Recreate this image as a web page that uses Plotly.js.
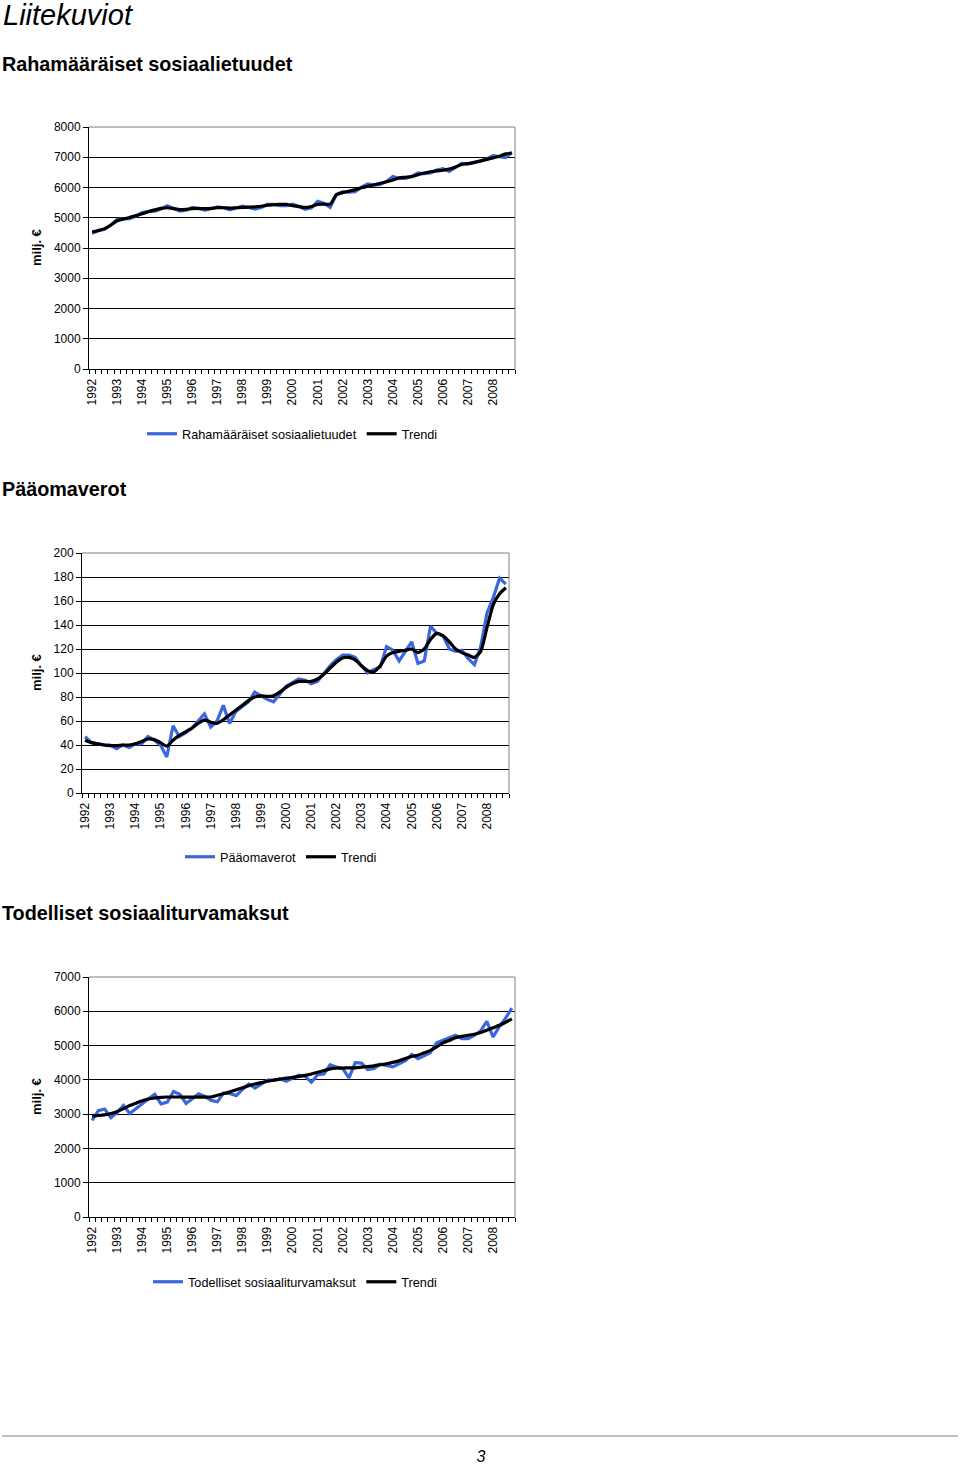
<!DOCTYPE html>
<html>
<head>
<meta charset="utf-8">
<script src="https://cdn.plot.ly/plotly-3.0.1.min.js"></script>
<style>
html,body{margin:0;padding:0;background:#fff;}
#chart{width:960px;height:1467px;}
</style>
</head>
<body>
<div id="chart"></div>
<script>
// ---------- DATA ----------
const years = ["1992","1993","1994","1995","1996","1997","1998","1999","2000","2001","2002","2003","2004","2005","2006","2007","2008"];

// Quarterly 1992Q1 ... 2008Q4 (68 quarters)
const rahaSeries = [
  4490, 4570, 4620, 4760,
  4950, 4960, 4970, 5060,
  5170, 5210, 5220, 5290,
  5400, 5310, 5220, 5250,
  5340, 5300, 5250, 5300,
  5360, 5330, 5260, 5320,
  5380, 5340, 5290, 5340,
  5440, 5440, 5400, 5400,
  5450, 5380, 5280, 5330,
  5540, 5480, 5340, 5780,
  5860, 5850, 5860, 6010,
  6120, 6080, 6100, 6200,
  6360, 6300, 6300, 6370,
  6480, 6460, 6480, 6580,
  6620, 6530, 6680, 6800,
  6780, 6820, 6870, 6950,
  7050, 7020, 6990, 7160
];
const rahaTrend = [
  4530, 4580, 4640, 4760,
  4900, 4960, 5010, 5070,
  5130, 5200, 5260, 5310,
  5330, 5300, 5270, 5280,
  5300, 5310, 5300, 5310,
  5330, 5330, 5320, 5330,
  5340, 5350, 5360, 5380,
  5420, 5430, 5440, 5440,
  5400, 5370, 5340, 5370,
  5440, 5450, 5450, 5760,
  5830, 5880, 5930, 5990,
  6040, 6090, 6140, 6190,
  6250, 6320, 6340, 6360,
  6420, 6480, 6520, 6550,
  6570, 6610, 6680, 6760,
  6790, 6830, 6880, 6930,
  6980, 7030, 7110, 7140
];

const paaSeries = [
  47, 42, 41, 40,
  40, 37, 40, 38,
  41, 41, 47, 44,
  40, 30, 56, 47,
  50, 54, 60, 66,
  55, 60, 73, 58,
  68, 72, 76, 84,
  81, 78, 76, 82,
  89, 92, 95, 94,
  91, 93, 100, 106,
  111, 115, 115, 113,
  106, 100, 103, 105,
  122, 119, 110, 118,
  126, 108, 110, 139,
  133, 131, 120, 118,
  119, 112, 107, 122,
  150, 163, 179, 174
];
const paaTrend = [
  44, 42, 41, 40,
  39.5, 39.5, 40, 40,
  41, 43, 45, 44.5,
  42, 39, 44, 48,
  51, 54, 58, 61,
  59, 58, 61, 65,
  69, 73, 77, 80,
  81, 80.5, 81, 84,
  88, 91, 93, 93,
  93, 95, 99, 104,
  109, 112.5, 113, 111,
  106, 102, 101, 106,
  114, 117, 118, 119,
  120, 117, 120, 128,
  133, 131, 126, 120,
  117, 115, 113, 118,
  138, 157, 166, 171
];

const maksuSeries = [
  2820, 3100, 3150, 2900,
  3050, 3250, 3020, 3150,
  3300, 3450, 3580, 3300,
  3350, 3660, 3580, 3310,
  3450, 3590, 3520, 3400,
  3360, 3620, 3600, 3540,
  3720, 3880, 3760, 3870,
  3990, 3990, 4030, 3960,
  4050, 4140, 4100, 3930,
  4150, 4170, 4440, 4370,
  4330, 4060, 4500, 4490,
  4300, 4330, 4460, 4430,
  4380, 4470, 4560, 4740,
  4620, 4700, 4800, 5080,
  5150, 5230, 5300, 5200,
  5200, 5300, 5420, 5710,
  5250, 5550, 5800, 6090
];
const maksuTrend = [
  2950, 2960, 2980, 3020,
  3080, 3160, 3250, 3320,
  3390, 3440, 3470, 3490,
  3500, 3500, 3500, 3495,
  3495, 3495, 3495, 3500,
  3550, 3600, 3650, 3710,
  3770, 3830, 3880, 3920,
  3960, 3990, 4020, 4050,
  4070, 4100, 4130, 4170,
  4220, 4270, 4320, 4340,
  4345, 4350, 4350, 4370,
  4390, 4410, 4440, 4470,
  4510, 4560, 4620, 4680,
  4720, 4790, 4860, 4960,
  5080, 5150, 5230, 5270,
  5300, 5330, 5380, 5450,
  5520, 5590, 5680, 5780
];

const seriesNames = ["Rahamääräiset sosiaalietuudet", "Pääomaverot", "Todelliset sosiaaliturvamaksut"];
const trendName = "Trendi";
const yTitle = "milj. €";

// ---------- BUILD ----------
const W = 960, H = 1467;
const px = v => v / W;
const py = v => 1 - v / H;
const FONT = "Liberation Sans, Arial, sans-serif";
const BLUE = "#3b67de";

const quarters = rahaSeries.map((_, i) => i);
const yearTickVals = years.map((_, k) => k * 4);

const charts = [
  {series: rahaSeries, trend: rahaTrend, name: seriesNames[0], left: 89, right: 515, top: 127, bottom: 369, ymax: 8000, dtick: 1000, legY: 434, legX: 142, legend: "legend"},
  {series: paaSeries, trend: paaTrend, name: seriesNames[1], left: 82, right: 509, top: 553, bottom: 793, ymax: 200, dtick: 20, legY: 857, legX: 180, legend: "legend2"},
  {series: maksuSeries, trend: maksuTrend, name: seriesNames[2], left: 89, right: 515, top: 977, bottom: 1217, ymax: 7000, dtick: 1000, legY: 1282, legX: 148, legend: "legend3"}
];

const data = [];
const layout = {
  width: W, height: H,
  margin: {l: 0, r: 0, t: 0, b: 0},
  paper_bgcolor: "#fff", plot_bgcolor: "#fff",
  font: {family: FONT, color: "#000", size: 12},
  showlegend: true,
  annotations: [], shapes: []
};

charts.forEach((c, k) => {
  const sfx = k === 0 ? "" : String(k + 1);
  const xa = "x" + sfx, ya = "y" + sfx;
  data.push({
    x: quarters, y: c.series, xaxis: xa, yaxis: ya, type: "scatter", mode: "lines",
    name: c.name, legend: c.legend,
    line: {color: BLUE, width: 3.2}
  });
  data.push({
    x: quarters, y: c.trend, xaxis: xa, yaxis: ya, type: "scatter", mode: "lines",
    name: trendName, legend: c.legend,
    line: {color: "#000", width: 3.2, shape: "spline", smoothing: 0.6}
  });
  layout["xaxis" + sfx] = {
    domain: [px(c.left), px(c.right)], anchor: ya,
    range: [-0.5, quarters.length - 0.5],
    tickmode: "array", tickvals: yearTickVals, ticktext: years,
    tickangle: -90, ticks: "outside", ticklen: 4, tickcolor: "rgba(0,0,0,0)",
    tickfont: {family: FONT, size: 12, color: "#000"},
    showgrid: false, zeroline: false,
    showline: true, linecolor: "#000", linewidth: 1,
    minor: {ticks: "outside", ticklen: 4, tickcolor: "#000", tickwidth: 1, tick0: -0.5, dtick: 1, showgrid: false},
    fixedrange: true
  };
  layout["yaxis" + sfx] = {
    domain: [py(c.bottom), py(c.top)], anchor: xa,
    range: [0, c.ymax], dtick: c.dtick, tick0: 0,
    ticks: "outside", ticklen: 5, tickcolor: "#000",
    tickfont: {family: FONT, size: 12, color: "#000"},
    showgrid: true, gridcolor: "#000", gridwidth: 1,
    zeroline: false, showline: true, linecolor: "#000", linewidth: 1,
    fixedrange: true
  };
  layout[c.legend] = {
    orientation: "h", x: px(c.legX), y: py(c.legY), xanchor: "left", yanchor: "middle",
    font: {family: FONT, size: 12.7, color: "#000"}, bgcolor: "rgba(0,0,0,0)",
    itemwidth: 30, traceorder: "normal", itemclick: false, itemdoubleclick: false
  };
  // grey frame (top/right)
  layout.shapes.push({type: "line", xref: "paper", yref: "paper", x0: px(c.left), x1: px(c.right), y0: py(c.top), y1: py(c.top), line: {color: "#808080", width: 1}, layer: "above"});
  layout.shapes.push({type: "line", xref: "paper", yref: "paper", x0: px(c.right), x1: px(c.right), y0: py(c.top), y1: py(c.bottom), line: {color: "#808080", width: 1}, layer: "above"});
  // y title
  layout.annotations.push({
    text: "<b>" + yTitle + "</b>", xref: "paper", yref: "paper",
    x: px(36), y: py((c.top + c.bottom) / 2), xanchor: "center", yanchor: "middle",
    textangle: -90, showarrow: false, font: {family: FONT, size: 13, color: "#000"}
  });
});

// page texts
layout.annotations.push({text: "<i>Liitekuviot&nbsp;</i>", xref: "paper", yref: "paper", x: px(1), y: py(15), xanchor: "left", yanchor: "middle", showarrow: false, font: {family: FONT, size: 29, color: "#000"}});
const heads = [[seriesNames[0], 64], [seriesNames[1], 489], [seriesNames[2], 913]];
heads.forEach(h => layout.annotations.push({text: "<b>" + h[0] + "</b>", xref: "paper", yref: "paper", x: px(0), y: py(h[1]), xanchor: "left", yanchor: "middle", showarrow: false, font: {family: FONT, size: 19.8, color: "#000"}}));
layout.annotations.push({text: "<i>&nbsp;3&nbsp;</i>", xref: "paper", yref: "paper", x: px(481), y: py(1456), xanchor: "center", yanchor: "middle", showarrow: false, font: {family: FONT, size: 16, color: "#000"}});
layout.shapes.push({type: "line", xref: "paper", yref: "paper", x0: px(2), x1: px(958), y0: py(1436), y1: py(1436), line: {color: "#808080", width: 1}});

Plotly.newPlot("chart", data, layout, {staticPlot: true, displayModeBar: false});
</script>
</body>
</html>
